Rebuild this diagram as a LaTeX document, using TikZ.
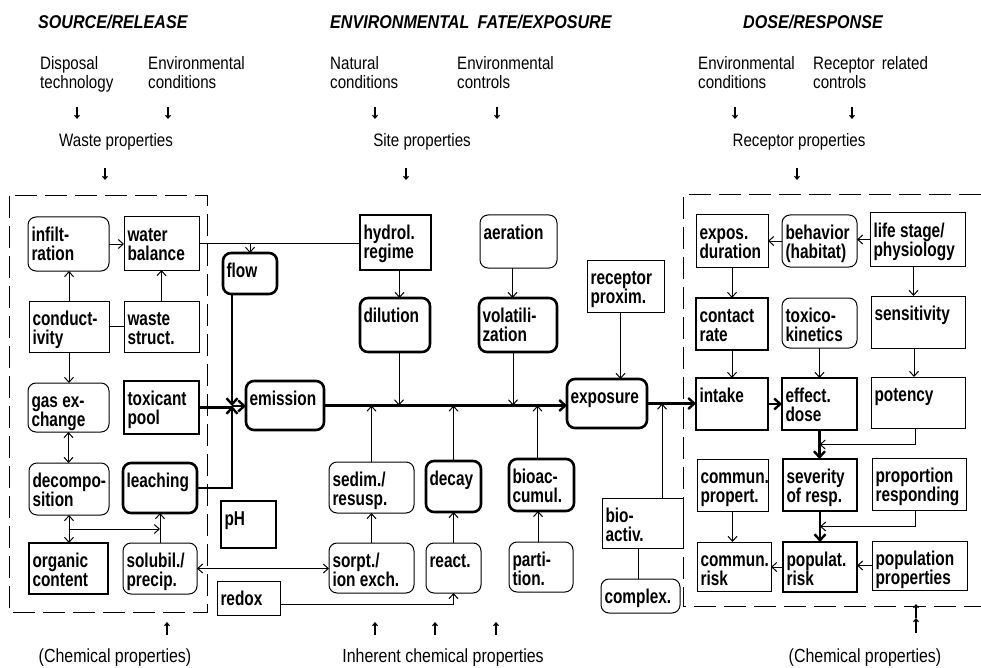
\documentclass[tikz,border=0pt]{standalone}
\usepackage{fontspec}
\setmainfont{Liberation Sans}[FakeStretch=0.84]
\newfontfamily\boxfam{Liberation Sans}[FakeStretch=0.77]
\newfontfamily\ttlfam{Liberation Sans}[FakeStretch=0.87]
\usetikzlibrary{arrows.meta,calc}
\hfuzz=40pt \vfuzz=40pt \hbadness=10000 \vbadness=10000
\newcommand{\boxfont}{\boxfam\bfseries\fontsize{20}{19}\selectfont\exhyphenpenalty=10000 \hyphenpenalty=10000 }
\newcommand{\bx}[7]{%
 \node[#6, anchor=north west, inner xsep=3.5pt, inner ysep=0pt, outer sep=0pt] (#1) at (#2,#3)
 {\parbox[c][\dimexpr #5pt-#3pt\relax][t]{\dimexpr #4pt-#2pt-7pt\relax}{\boxfont\raggedright\rule{0pt}{24pt}#7}};}
\newcommand{\varr}[4]{\coordinate (#1a) at (#2,#3); \coordinate (#1b) at (#2,#4); \draw[tinyarr] (#1a) -- (#1b);}
\tikzset{
 thinbox/.style={draw, line width=1pt},
 thickbox/.style={draw, line width=2.6pt},
 thinrnd/.style={draw, line width=1pt, rounded corners=8pt},
 thickrnd/.style={draw, line width=2.6pt, rounded corners=8pt},
 conn/.style={line width=1pt, -{Straight Barb[length=5pt,width=9pt]}},
 thinline/.style={line width=1pt},
 thk/.style={line width=2.4pt},
 thkarr/.style={line width=2.4pt, -{Straight Barb[length=6pt,width=11pt]}},
 dbl/.style={line width=1pt, {Straight Barb[length=5pt,width=9pt]}-{Straight Barb[length=5pt,width=9pt]}},
 dashframe/.style={line width=1pt, dash pattern=on 22pt off 8pt},
 tinyarr/.style={line width=1.1pt, -{Straight Barb[length=3pt,width=5pt]}},
 hdr/.style={font=\fontsize{18}{19.5}\selectfont, inner sep=0pt, align=left},
 ttl/.style={font=\ttlfam\bfseries\itshape\fontsize{18.5}{20}\selectfont, inner sep=0pt},
 btm/.style={font=\fontsize{19}{20}\selectfont, inner sep=0pt},
}
\begin{document}
\begin{tikzpicture}[x=1pt,y=-1pt]
\useasboundingbox (0,0) rectangle (981,668);
% titles and headers
\node[ttl, anchor=base west] (t1) at (38,29) {SOURCE/RELEASE};
\node[ttl, anchor=base west] (t2) at (330,29) {ENVIRONMENTAL\hspace{0.45em}FATE/EXPOSURE};
\node[ttl, anchor=base west] (t3) at (743,29) {DOSE/RESPONSE};
\node[hdr, anchor=north west] (h1) at (40,56) {Disposal\\technology};
\node[hdr, anchor=north west] (h2) at (148,56) {Environmental\\conditions};
\node[hdr, anchor=north west] (h3) at (330,56) {Natural\\conditions};
\node[hdr, anchor=north west] (h4) at (457,56) {Environmental\\controls};
\node[hdr, anchor=north west] (h5) at (698,56) {Environmental\\conditions};
\node[hdr, anchor=north west] (h6) at (813,56) {Receptor\hspace{0.4em}related\\controls};
\node[hdr, anchor=base] (p1) at (116,147) {Waste properties};
\node[hdr, anchor=base] (p2) at (422,147) {Site properties};
\node[hdr, anchor=base] (p3) at (799,147) {Receptor properties};
\varr{a1}{77}{107}{119}
\varr{a2}{168}{107}{119}
\varr{a3}{375}{107}{119}
\varr{a4}{497}{107}{119}
\varr{a5}{735}{107}{119}
\varr{a6}{852}{107}{119}
\varr{a7}{105}{168}{180}
\varr{a8}{406}{168}{180}
\varr{a9}{797}{168}{180}
% bottom texts
\node[btm, anchor=base] (b1) at (115,662) {(Chemical properties)};
\node[btm, anchor=base] (b2) at (443,662) {Inherent chemical properties};
\node[btm, anchor=base] (b3) at (865,662) {(Chemical properties)};
\varr{u1}{167}{635}{622}
\varr{u2}{375}{635}{622}
\varr{u3}{435}{635}{622}
\varr{u4}{496}{635}{622}
\varr{u5}{916}{633}{618}
\varr{u6}{916}{618}{604}
% dashed frames
\coordinate (lf1) at (9,196); \coordinate (lf2) at (207,612);
\draw[dashframe] (lf1) rectangle (lf2);
\coordinate (rf1) at (981,195); \coordinate (rf2) at (683,195);
\coordinate (rf3) at (683,606); \coordinate (rf4) at (981,606);
\draw[dashframe] (rf1) -- (rf2) -- (rf3) -- (rf4);
% left boxes
\bx{infil}{28}{217}{109}{271}{thinrnd}{infilt-\\ration}
\bx{water}{124}{217}{199}{270}{thinbox}{water\\balance}
\bx{cond}{29}{301}{109}{352}{thinbox}{conduct-\\ivity}
\bx{waste}{124}{301}{199}{352}{thinbox}{waste\\struct.}
\bx{gas}{28}{383}{109}{432}{thinrnd}{gas ex-\\change}
\bx{toxpool}{124}{381}{199}{434}{thickbox}{toxicant\\pool}
\bx{decomp}{29}{463}{109}{515}{thinrnd}{decompo-\\sition}
\bx{leach}{123}{463}{197}{513}{thickrnd}{leaching}
\bx{organic}{29}{543}{108}{594}{thickbox}{organic\\content}
\bx{solub}{123}{543}{197}{594}{thinrnd}{solubil./\\precip.}
\bx{flow}{223}{253}{277}{294}{thickrnd}{flow}
\bx{emission}{246}{381}{324}{430}{thickrnd}{emission}
\bx{pH}{221}{501}{276}{548}{thickbox}{pH}
\bx{redox}{217}{581}{280}{615}{thinbox}{redox}
% middle boxes
\bx{hydrol}{360}{215}{431}{270}{thickbox}{hydrol.\\regime}
\bx{aeration}{480}{215}{557}{268}{thinrnd}{aeration}
\bx{recprox}{587}{260}{664}{312}{thinbox}{receptor\\proxim.}
\bx{dilution}{360}{298}{430}{352}{thickrnd}{dilution}
\bx{volat}{479}{298}{557}{352}{thickrnd}{volatili-\\zation}
\bx{exposure}{567}{379}{647}{428}{thickrnd}{exposure}
\bx{sedim}{329}{462}{414}{513}{thinrnd}{sedim./\\resusp.}
\bx{decay}{426}{461}{481}{512}{thickrnd}{decay}
\bx{bioacc}{509}{459}{574}{511}{thickrnd}{bioac-\\cumul.}
\bx{sorpt}{329}{543}{414}{593}{thinrnd}{sorpt./\\ion exch.}
\bx{react}{426}{543}{481}{593}{thinrnd}{react.}
\bx{partit}{509}{542}{573}{592}{thinrnd}{parti-\\tion.}
\bx{bioact}{602}{498}{683}{548}{thinbox}{bio-\\activ.}
\bx{complex}{601}{579}{680}{613}{thinrnd}{complex.}
% right boxes
\bx{expos}{696}{215}{768}{267}{thinbox}{expos.\\duration}
\bx{behav}{782}{215}{857}{267}{thinrnd}{behavior\\(habitat)}
\bx{life}{870}{213}{965}{266}{thinbox}{life stage/\\physiology}
\bx{contact}{696}{298}{768}{350}{thickbox}{contact\\rate}
\bx{toxico}{782}{298}{857}{348}{thinrnd}{toxico-\\kinetics}
\bx{sensit}{871}{296}{965}{348}{thinbox}{sensitivity}
\bx{intake}{696}{378}{768}{430}{thickbox}{intake}
\bx{effect}{782}{378}{857}{430}{thickbox}{effect.\\dose}
\bx{potency}{871}{377}{965}{428}{thinbox}{potency}
\bx{communp}{697}{459}{768}{511}{thinbox}{commun.\\propert.}
\bx{severity}{783}{459}{857}{511}{thickbox}{severity\\of resp.}
\bx{propresp}{872}{458}{966}{510}{thinbox}{proportion\\responding}
\bx{commrisk}{697}{542}{771}{591}{thinbox}{commun.\\risk}
\bx{popris}{783}{542}{857}{592}{thickbox}{populat.\\risk}
\bx{popprop}{872}{541}{967}{590}{thinbox}{population\\properties}
% left connectors
\draw[conn] (infil.east) -- (infil.east -| water.west);
\draw[conn] (cond.north) -- (cond.north |- infil.south);
\draw[conn] (waste.north) -- (waste.north |- water.south);
\draw[thinline] (cond.east) -- (cond.east -| waste.west);
\draw[conn] (cond.south) -- (cond.south |- gas.north);
\draw[dbl] (gas.south) -- (gas.south |- decomp.north);
\draw[dbl] (decomp.south) -- (decomp.south |- organic.north);
\coordinate (br1) at ($(decomp.south)!0.5!(decomp.south |- organic.north)$);
\draw[conn] (br1) -- (br1 -| solub.north);
\draw[conn] (solub.north) -- (solub.north |- leach.south);
\draw[thinline] (water.east) -- (water.east -| hydrol.west);
\draw[conn] (flow.north |- water.east) -- (flow.north);
\coordinate (J) at (232,406);
\draw[thkarr] (flow.south -| J) -- (J);
\draw[thkarr] (leach.east) -| (J);
\draw[thk] (toxpool.east) -- (toxpool.east -| J);
\draw[thkarr] (J) -- (J -| emission.west);
\draw[thkarr] (emission.east) -- (emission.east -| exposure.west);
\coordinate (ml) at (emission.east);
% middle connectors
\draw[conn] ([xshift=4pt]hydrol.south) -- ([xshift=4pt]hydrol.south |- dilution.north);
\draw[conn] ([xshift=4pt]dilution.south) -- ([xshift=4pt]dilution.south |- ml);
\draw[conn] ([xshift=-6pt]aeration.south) -- ([xshift=-6pt]aeration.south |- volat.north);
\draw[conn] ([xshift=-5pt]volat.south) -- ([xshift=-5pt]volat.south |- ml);
\draw[conn] (sedim.north) -- (sedim.north |- ml);
\draw[conn] (decay.north) -- (decay.north |- ml);
\draw[conn] ([xshift=-4pt]bioacc.north) -- ([xshift=-4pt]bioacc.north |- ml);
\draw[conn] (sorpt.north) -- (sorpt.north |- sedim.south);
\draw[conn] (react.north) -- (react.north |- decay.south);
\draw[conn] ([xshift=-3pt]partit.north) -- ([xshift=-3pt]partit.north |- bioacc.south);
\draw[dbl] (solub.east) -- (solub.east -| sorpt.west);
\draw[conn] ([yshift=-6pt]redox.east) -| (react.south);
\draw[conn] ([xshift=-5pt]recprox.south) -- ([xshift=-5pt]recprox.south |- exposure.north);
\draw[thkarr] (exposure.east) -- (exposure.east -| intake.west);
\coordinate (ml2) at (exposure.east);
\draw[conn] ([xshift=19.5pt]bioact.north) -- ([xshift=19.5pt]bioact.north |- ml2);
\draw[thinline] ([xshift=-4pt]bioact.south) -- ([xshift=-4pt]bioact.south |- complex.north);
% right connectors
\draw[conn] (life.west) -- (life.west -| behav.east);
\draw[conn] (behav.west) -- (behav.west -| expos.east);
\draw[conn] (expos.south) -- (expos.south |- contact.north);
\draw[conn] (contact.south) -- (contact.south |- intake.north);
\draw[conn] (toxico.south) -- (toxico.south |- effect.north);
\draw[conn] ([xshift=-4pt]life.south) -- ([xshift=-4pt]life.south |- sensit.north);
\draw[conn] ([xshift=-4pt]sensit.south) -- ([xshift=-4pt]sensit.south |- potency.north);
\draw[thkarr] (intake.east) -- (intake.east -| effect.west);
\draw[thkarr] (effect.south) -- (effect.south |- severity.north);
\coordinate (m1) at ($(effect.south)!0.5!(effect.south |- severity.north)$);
\draw[conn] ([xshift=-3pt]potency.south) |- (m1);
\draw[thkarr] (severity.south) -- (severity.south |- popris.north);
\coordinate (m2) at ($(severity.south)!0.5!(severity.south |- popris.north)$);
\draw[conn] ([xshift=-4pt]propresp.south) |- (m2);
\draw[conn] (communp.south) -- (communp.south |- commrisk.north);
\draw[conn] (popris.west) -- (popris.west -| commrisk.east);
\draw[conn] (popprop.west) -- (popprop.west -| popris.east);
\end{tikzpicture}
\end{document}
